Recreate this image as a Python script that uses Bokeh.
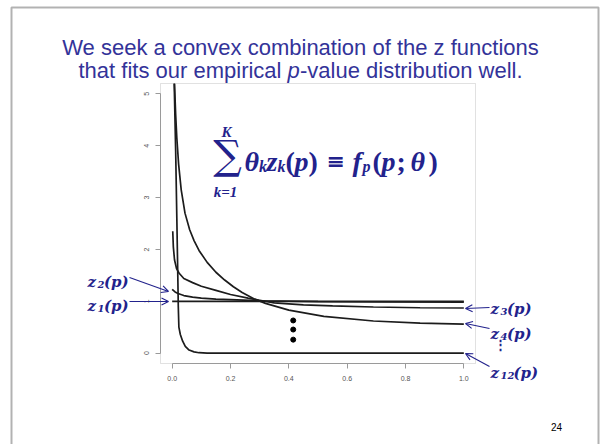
from bokeh.plotting import figure
from bokeh.models import (Range1d, Label, Arrow, OpenHead, BoxAnnotation,
                          FixedTicker, NumeralTickFormatter, LinearAxis)
from bokeh.embed import file_html
from bokeh.resources import INLINE

# ---- curve data: density basis functions z_k(p) on [0, 1] ----
z1_p = [0.0, 1.0]
z1_v = [1.0, 1.0]

z2_p = [0.0, 0.01, 0.02, 0.04, 0.07, 0.10, 0.15, 0.20, 0.30, 0.50, 0.70, 1.0]
z2_v = [1.23, 1.18, 1.15, 1.11, 1.08, 1.06, 1.04, 1.03, 1.01, 0.995, 0.99, 0.985]

z3_p = [0.002, 0.004, 0.008, 0.015, 0.024, 0.04, 0.07, 0.10, 0.15, 0.20,
        0.26, 0.30, 0.35, 0.45, 0.55, 0.69, 0.85, 1.0]
z3_v = [2.35, 2.05, 1.80, 1.63, 1.54, 1.44, 1.36, 1.29, 1.21, 1.13,
        1.06, 1.02, 0.97, 0.93, 0.91, 0.89, 0.875, 0.87]

z4_p = [0.008, 0.012, 0.016, 0.022, 0.031, 0.044, 0.06, 0.075, 0.092, 0.12,
        0.15, 0.18, 0.21, 0.24, 0.28, 0.32, 0.40, 0.52, 0.69, 0.85, 1.0]
z4_v = [5.2, 4.6, 4.15, 3.65, 3.15, 2.7, 2.38, 2.17, 1.98, 1.75,
        1.56, 1.41, 1.28, 1.17, 1.05, 0.96, 0.83, 0.71, 0.62, 0.58, 0.56]

z12_p = [0.007, 0.012, 0.016, 0.019, 0.021, 0.023, 0.028, 0.036, 0.045,
         0.058, 0.075, 0.092, 0.12, 1.0]
z12_v = [5.2, 3.9, 2.6, 1.6, 0.9, 0.5, 0.36, 0.23, 0.13,
         0.06, 0.025, 0.008, 0.0, 0.0]

curves = [(z1_p, z1_v), (z2_p, z2_v), (z3_p, z3_v), (z4_p, z4_v), (z12_p, z12_v)]

# vertical ellipsis inside the panel
dots_x = [0.415, 0.415, 0.415]
dots_y = [0.63, 0.455, 0.26]

x_ticks = [0.0, 0.2, 0.4, 0.6, 0.8, 1.0]
y_ticks = [0, 1, 2, 3, 4, 5]

# plotting box of the panel (data units)
BOX_X = (-0.04, 1.04)
BOX_Y = (-0.2, 5.2)

title_1 = "We seek a convex combination of the z functions"
title_2a = "that fits our empirical "
title_2b = "p"
title_2c = "-value distribution well."
page_no = "24"

# ---- page geometry: panel box sits at x 160..475, y 83..363 px ----
W, H = 600, 444
BL, BR, BT, BB = 160, 475, 83, 363
SX = (BR - BL) / (BOX_X[1] - BOX_X[0])
SY = (BB - BT) / (BOX_Y[1] - BOX_Y[0])
X0 = BOX_X[0] - BL / SX
X1 = BOX_X[1] + (W - BR) / SX
Y1 = BOX_Y[1] + BT / SY
Y0 = BOX_Y[0] - (H - BB) / SY


def dx(px):
    return X0 + px / SX


def dy(py):
    return Y1 - py / SY


BLUE = "#333399"
NAVY = "#22228c"
GREY = "#9a9a9a"
SERIF = "Liberation Serif"

p = figure(width=W, height=H, x_range=Range1d(X0, X1), y_range=Range1d(Y0, Y1),
           min_border=0, x_axis_location=None, y_axis_location=None,
           toolbar_location=None, output_backend="svg", title=None)
p.background_fill_color = "white"
p.border_fill_color = "white"
p.outline_line_color = None
p.xgrid.visible = False
p.ygrid.visible = False

xaxis = LinearAxis(fixed_location=BOX_Y[0], bounds=(0, 1),
                   ticker=FixedTicker(ticks=x_ticks),
                   formatter=NumeralTickFormatter(format="0.0"),
                   major_label_standoff=7)
yaxis = LinearAxis(fixed_location=BOX_X[0], bounds=(0, 5),
                   ticker=FixedTicker(ticks=y_ticks),
                   major_label_orientation="vertical",
                   major_label_standoff=6)
for ax in (xaxis, yaxis):
    ax.axis_line_color = GREY
    ax.major_tick_line_color = GREY
    ax.minor_tick_line_color = None
    ax.major_tick_out = 5
    ax.major_tick_in = 0
    ax.major_label_text_font = "Liberation Sans"
    ax.major_label_text_font_size = "7px"
    ax.major_label_text_color = "#555555"
p.add_layout(xaxis, "below")
p.add_layout(yaxis, "left")

# panel box
p.add_layout(BoxAnnotation(left=BOX_X[0], right=BOX_X[1], bottom=BOX_Y[0], top=BOX_Y[1],
                           fill_alpha=0, line_color=GREY, line_width=1))

for xs, ys in curves:
    p.line(xs, ys, line_color="#1c1c1c", line_width=1.7)

p.scatter(dots_x, dots_y, size=5, color="black")

# ---- slide frame ----
p.add_layout(BoxAnnotation(left=dx(11), right=dx(598), top=dy(7), bottom=dy(447),
                           fill_alpha=0, line_color="black", line_width=2))


def lab(px, py, text, size, font=SERIF, style="bold italic",
        color=NAVY, align="left", baseline="alphabetic"):
    p.add_layout(Label(x=dx(px), y=dy(py), text=text, text_font=font,
                       text_font_size=f"{size}px", text_font_style=style,
                       text_color=color, text_align=align,
                       text_baseline=baseline))


# ---- title ----
lab(300, 47, title_1, 22, font="Liberation Sans", style="normal",
    color=BLUE, align="center")
lab(78, 70, title_2a, 22, font="Liberation Sans", style="normal", color=BLUE)
lab(287, 70, title_2b, 22, font="Liberation Sans", style="italic", color=BLUE)
lab(299.5, 70, title_2c, 22, font="Liberation Sans", style="normal", color=BLUE)

# ---- page number ----
lab(556, 426, page_no, 10, font="Liberation Sans", style="normal",
    color="black", align="center")

# ---- formula: sum_{k=1}^{K} theta_k z_k(p) = f_p(p; theta) ----
lab(226, 131.5, "K", 15, align="center")
lab(227, 154, "\u2211", 40, font="DejaVu Serif", style="normal",
    align="center", baseline="middle")
lab(225, 191.5, "k=1", 15, align="center")
formula = [
    (244, 161, "\u03b8", 28, "bold italic"),
    (258.5, 166, "k", 16, "bold italic"),
    (266, 161, "z", 28, "bold italic"),
    (277, 166, "k", 16, "bold italic"),
    (285, 161, "(", 28, "bold"),
    (294, 161, "p", 28, "bold italic"),
    (308, 161, ")", 28, "bold"),
    (352, 161, "f", 28, "bold italic"),
    (362, 166, "p", 16, "bold italic"),
    (372, 161, "(", 28, "bold"),
    (381, 161, "p", 28, "bold italic"),
    (396, 161, ";", 28, "bold"),
    (410, 161, "\u03b8", 28, "bold italic"),
    (428, 161, ")", 28, "bold"),
]
for fx, fy, txt, fs, st in formula:
    lab(fx, fy, txt, fs, style=st)
lab(326, 160, "\u2261", 22, font="DejaVu Serif", style="bold")

# ---- curve labels ----
def zlabel(px, py, sub):
    lab(px, py, "z", 15, font="DejaVu Serif")
    lab(px + 10, py + 3, sub, 10, font="DejaVu Serif")
    lab(px + 10 + 6.5 * len(sub), py, "(p)", 15, font="DejaVu Serif")


zlabel(87, 281, "2")
zlabel(87, 305, "1")
zlabel(490, 308, "3")
zlabel(490, 333, "4")
zlabel(490, 372, "12")

# small vertical ellipsis between z4 and z12
lab(500, 344, "\u22ee", 13, font="DejaVu Serif", style="bold",
    align="center", baseline="middle")

arrows = [((129, 277), (168, 291)), ((129, 301), (168, 301)),
          ((489, 307), (465, 308)), ((489, 328), (465, 323)),
          ((489, 366), (465, 353))]
for (x0, y0), (x1, y1) in arrows:
    p.add_layout(Arrow(end=OpenHead(size=7, line_color=NAVY, line_width=1.1),
                       x_start=dx(x0), y_start=dy(y0), x_end=dx(x1), y_end=dy(y1),
                       line_color=NAVY, line_width=1.1))

open("out.html", "w").write(file_html(p, INLINE))
